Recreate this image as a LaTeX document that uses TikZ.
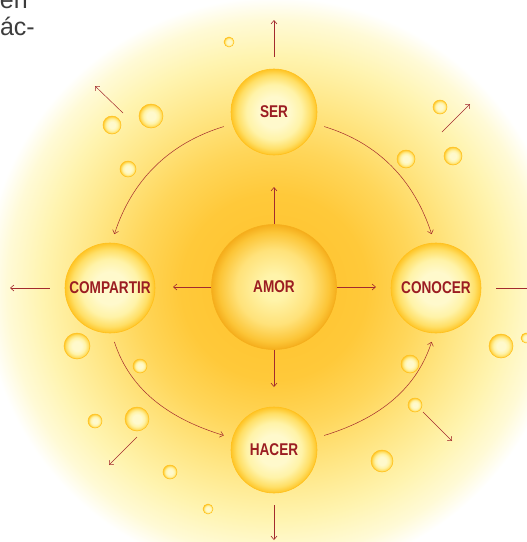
\documentclass[tikz,border=0pt]{standalone}
\usepackage{fontspec}
\setmainfont{Liberation Sans}
\newfontfamily\labelfont[FakeStretch=0.8]{Liberation Sans}
\usetikzlibrary{arrows.meta}

\definecolor{linkred}{HTML}{A32A2E}
\definecolor{labelred}{HTML}{9B1D22}
\definecolor{textgray}{HTML}{3C3C3C}
\definecolor{glow0}{HTML}{FFC22A}
\definecolor{glow1}{HTML}{FFC93A}
\definecolor{glow2}{HTML}{FFD65A}
\definecolor{glow3}{HTML}{FFE685}
\definecolor{glow4}{HTML}{FFF4B0}
\definecolor{glow5}{HTML}{FFFAD6}
\definecolor{bub0}{HTML}{FFF9CC}
\definecolor{bub1}{HTML}{FFF3A8}
\definecolor{bub2}{HTML}{FFDF66}
\definecolor{bub3}{HTML}{FFC526}
\definecolor{bubrim}{HTML}{FFC01C}
\definecolor{amor0}{HTML}{FFF4AA}
\definecolor{amor1}{HTML}{FFE27A}
\definecolor{amor2}{HTML}{FCC537}
\definecolor{amor3}{HTML}{F5AE1C}

% the path box matches the 25bp circle
\pgfdeclareradialshading{glowshade}{\pgfpoint{0bp}{0bp}}{color(0bp)=(glow0); color(8bp)=(glow1); color(12bp)=(glow2); color(16bp)=(glow3); color(20bp)=(glow4); color(23bp)=(glow5); color(25bp)=(white); color(50bp)=(white)}
\pgfdeclareradialshading{bubbleshade}{\pgfpoint{0bp}{0bp}}{color(0bp)=(bub0); color(9bp)=(bub0); color(16bp)=(bub1); color(21.5bp)=(bub2); color(25bp)=(bub3); color(50bp)=(bub3)}
\pgfdeclareradialshading{amorshade}{\pgfpoint{0bp}{0bp}}{color(0bp)=(amor0); color(5bp)=(amor0); color(15bp)=(amor1); color(22bp)=(amor2); color(25bp)=(amor3); color(50bp)=(amor3)}

\tikzset{
  ball/.style={circle, shade, shading=bubbleshade, draw=bubrim, line width=0.6pt, inner sep=0pt,
    text=labelred, font=\labelfont\bfseries\fontsize{17}{17}\selectfont},
  core/.style={ball, shading=amorshade, draw=amor3},
  bubble/.style={circle, shade, shading=bubbleshade, draw=bubrim, line width=0.5pt, inner sep=0pt},
  link/.style={draw=linkred, line width=0.6pt, ->},
  bow/.style={link, line width=0.5pt, shorten <=9pt, shorten >=9pt},
}

\begin{document}
\begin{tikzpicture}[x=1pt,y=-1pt,>={Straight Barb[length=3.5pt,width=6pt]}]
\useasboundingbox (0,0) rectangle (527,542);
\clip (0,0) rectangle (527,542);

% glow
\shade[shading=glowshade] (274,287) circle[radius=290pt];

% text of the page
\node[anchor=base east, inner sep=0pt, text=textgray, font=\fontsize{25}{27}\selectfont] (texta) at (28,8) {en};
\node[anchor=base east, inner sep=0pt, text=textgray, font=\fontsize{25}{27}\selectfont] (textb) at (35,35) {ác-};

% circles
\node[core, minimum size=125pt] (amor) at (274,287) {AMOR};
\node[ball, minimum size=86pt] (ser) at (274,112) {SER};
\node[ball, minimum size=90pt] (compartir) at (110,288) {COMPARTIR};
\node[ball, minimum size=90pt] (conocer) at (436,288) {CONOCER};
\node[ball, minimum size=86pt] (hacer) at (274,450) {HACER};

% small bubbles
\foreach \bx/\by/\br [count=\i] in {229/42/5, 151/116/12, 112/125/9, 128/169/8, 440/107/7, 406/159/9,
  453/156/9, 77/346/13, 140/366/7, 95/421/7, 137/419/12, 170/472/7, 208/509/5, 410/364/9,
  415/405/7, 382/461/11, 501/346/12, 526/338/5}
  \node[bubble, minimum size=\br*2pt] (bub\i) at (\bx,\by) {};

% arrow ends
\coordinate (amorup) at (274,187);
\coordinate (amordown) at (274,387);
\coordinate (amorleft) at (173,287);
\coordinate (amorright) at (376,287);
\coordinate (serup) at (274,20);
\coordinate (compleft) at (10,288);
\coordinate (conright) at (534,288);
\coordinate (hacerdown) at (274,540);
\coordinate (d1s) at (123,113);
\coordinate (d1e) at (95,86);
\coordinate (d2s) at (442,132);
\coordinate (d2e) at (470,104);
\coordinate (d3s) at (137,437);
\coordinate (d3e) at (109,465);
\coordinate (d4s) at (423,412);
\coordinate (d4e) at (452,441);

% from amor
\draw[link] (amor) -- (amorup);
\draw[link] (amor) -- (amordown);
\draw[link] (amor) -- (amorleft);
\draw[link] (amor) -- (amorright);

% outwards
\draw[link, shorten <=12pt] (ser) -- (serup);
\draw[link, shorten <=15pt] (compartir) -- (compleft);
\draw[link, shorten <=15pt] (conocer) -- (conright);
\draw[link, shorten <=12pt] (hacer) -- (hacerdown);

% ring
\draw[bow] (ser.196) to[out=197, in=72] (compartir.88);
\draw[bow] (ser.-16) to[out=-17, in=108] (conocer.92);
\draw[bow] (compartir.272) to[out=288, in=163] (hacer.164);
\draw[bow] (hacer.16) to[out=17, in=252] (conocer.268);

% diagonal arrows
\draw[link, line width=0.5pt] (d1s) -- (d1e);
\draw[link, line width=0.5pt] (d2s) -- (d2e);
\draw[link, line width=0.5pt] (d3s) -- (d3e);
\draw[link, line width=0.5pt] (d4s) -- (d4e);
\end{tikzpicture}
\end{document}
